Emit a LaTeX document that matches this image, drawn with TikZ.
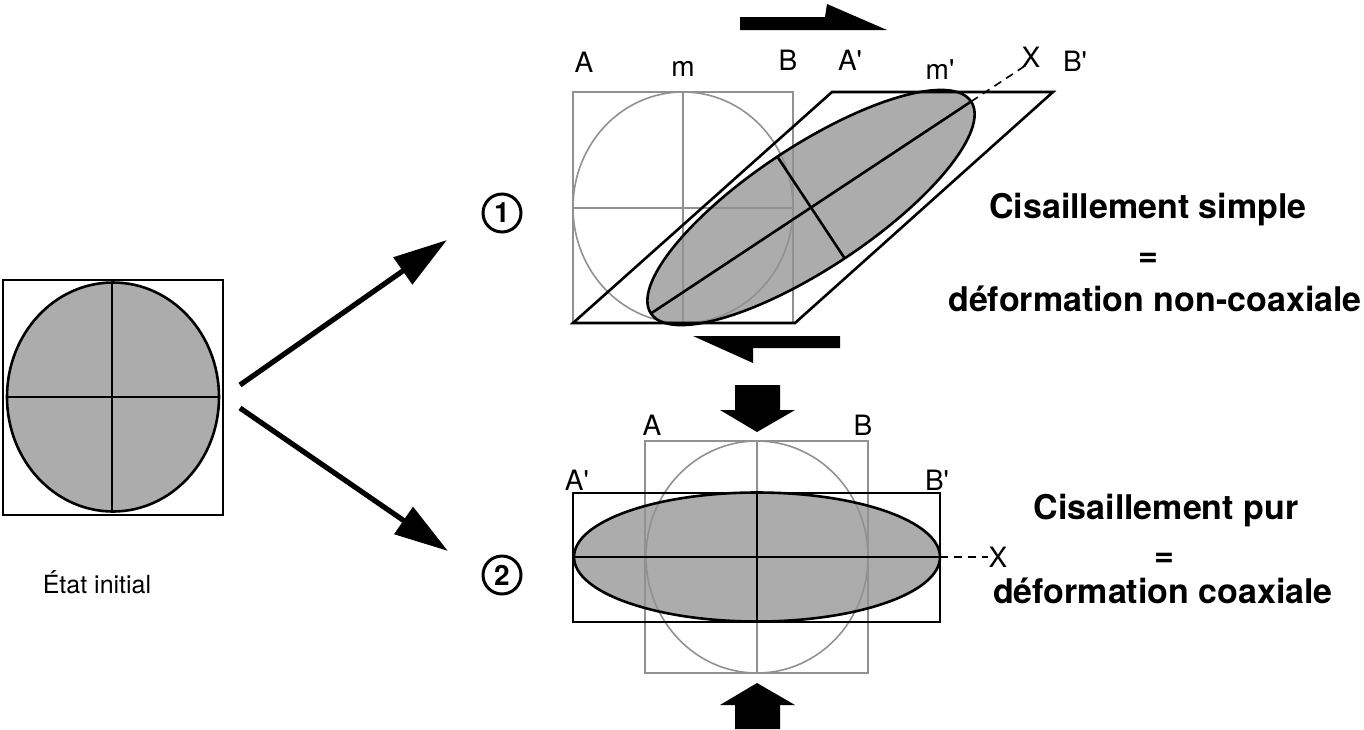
\documentclass[tikz,border=0pt]{standalone}
\usepackage{fontspec}
\setmainfont{TeX Gyre Heros}
\usetikzlibrary{arrows.meta}
\definecolor{ellgray}{RGB}{172,172,172}
\definecolor{linegray}{RGB}{145,145,145}
\newcommand{\apos}{\textquotesingle}
\begin{document}
\begin{tikzpicture}[x=0.5pt,y=-0.5pt,
  blk/.style={line width=1.3pt,draw=black},
  gry/.style={line width=0.8pt,draw=linegray},
  dsh/.style={line width=0.8pt,draw=black,dash pattern=on 4pt off 3pt},
  lab/.style={font=\fontsize{14}{16}\selectfont,inner sep=0pt,anchor=base},
  ttl/.style={font=\bfseries\fontsize{17}{20}\selectfont,inner sep=0pt,anchor=base},
  bigarrow/.style={line width=2.6pt,-{Triangle[length=27pt,width=16pt]}},
  num/.style={circle,draw,line width=1.5pt,minimum size=19pt,inner sep=0pt,font=\bfseries\fontsize{14}{16}\selectfont},
  solidarrow/.style={fill=black}
]
\useasboundingbox (0,0) rectangle (1364,729);

% ---------- initial state ----------
\fill[ellgray] (113,397) ellipse (53pt and 57.25pt);
\node[draw,blk,minimum width=110pt,minimum height=117.5pt,inner sep=0pt] (init) at (113,397.5) {};
\draw[blk] (113,397) ellipse (53pt and 57.25pt);
\draw[blk] (112,282) -- (112,511);
\draw[blk] (8,397) -- (220,397);
\node[font=\fontsize{12.5}{14}\selectfont,inner sep=0pt] (etat) at (97,582) {État initial};

\coordinate (a1s) at (240,385);
\coordinate (a1e) at (447,240);
\coordinate (a2s) at (240,408);
\coordinate (a2e) at (448,551);
\draw[bigarrow] (a1s) -- (a1e);
\draw[bigarrow] (a2s) -- (a2e);

% ---------- 1: simple shear ----------
\begin{scope}[shift={(811,207.5)},rotate=33.5]
  \fill[ellgray] (0,0) ellipse (96pt and 30.5pt);
\end{scope}
\draw[gry] (573,92) rectangle (793,323);
\draw[gry] (683,92) -- (683,323);
\draw[gry] (573,208) -- (793,208);
\draw[gry] (683,207.5) ellipse (55pt and 57.75pt);
\begin{scope}[shift={(811,207.5)},rotate=33.5]
  \draw[blk] (0,0) ellipse (96pt and 30.5pt);
  \draw[blk] (-192,0) -- (192,0);
  \draw[blk] (0,-61) -- (0,61);
  \coordinate (e1) at (192,0);
  \coordinate (x1) at (258,0);
\end{scope}
\draw[dsh] (e1) -- (x1);
\draw[blk,line join=miter] (573,323) -- (795,323) -- (1053,92) -- (832,92) -- cycle;

\fill[solidarrow] (740,17) -- (825,17) -- (827,4) -- (887,30) -- (740,30) -- cycle;
\fill[solidarrow] (840,336) -- (693,336) -- (753,363) -- (753,348) -- (840,348) -- cycle;

\node[lab] (A1) at (584,72) {A};
\node[lab] (m1) at (683,76) {m};
\node[lab] (B1) at (788,70) {B};
\node[lab] (Ap1) at (850,70) {A\apos};
\node[lab] (mp1) at (940,79) {m\apos};
\node[lab] (X1) at (1031,67) {X};
\node[lab] (Bp1) at (1075,71) {B\apos};

\node[num] (n1) at (502,213) {1};

\node[ttl] (t1) at (1148,218) {Cisaillement simple};
\node[ttl] (t2) at (1148,266) {=};
\node[ttl] (t3) at (1155,311) {déformation non-coaxiale};

% ---------- 2: pure shear ----------
\fill[ellgray] (757,557) ellipse (91.5pt and 32.25pt);
\draw[gry] (645,441) rectangle (868,673);
\draw[gry] (757,441) -- (757,673);
\draw[gry] (757,557) ellipse (55.5pt and 58pt);
\draw[blk] (757,557) ellipse (91.5pt and 32.25pt);
\draw[blk] (573,493) rectangle (940,622);
\draw[blk] (573,557) -- (940,557);
\draw[blk] (757,493) -- (757,622);
\node[lab,anchor=center] (X2) at (998,557) {X};
\coordinate (e2) at (940,557);
\draw[dsh] (e2) -- (X2.west);

\fill[solidarrow] (735,385) -- (780,385) -- (780,410) -- (795,410) -- (757,432) -- (720,410) -- (735,410) -- cycle;
\fill[solidarrow] (735,729) -- (780,729) -- (780,705) -- (795,705) -- (757,683) -- (720,705) -- (735,705) -- cycle;

\node[lab] (A2) at (652,435) {A};
\node[lab] (B2) at (863,435) {B};
\node[lab] (Ap2) at (577,490) {A\apos};
\node[lab] (Bp2) at (937,490) {B\apos};

\node[num] (n2) at (502,575) {2};

\node[ttl] (t4) at (1166,519) {Cisaillement pur};
\node[ttl] (t5) at (1164,566) {=};
\node[ttl] (t6) at (1163,603) {déformation coaxiale};
\end{tikzpicture}
\end{document}
